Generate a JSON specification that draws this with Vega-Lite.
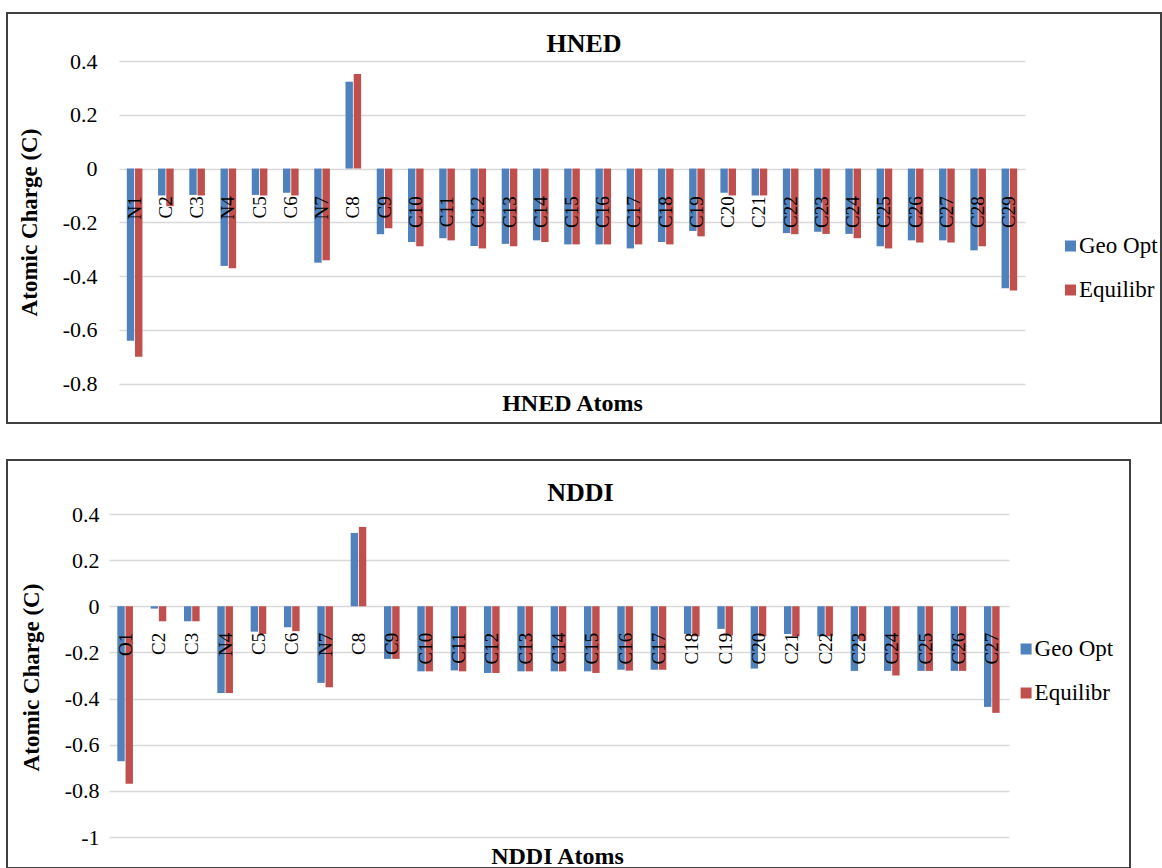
{
  "$schema": "https://vega.github.io/schema/vega-lite/v6.json",
  "padding": {"left": 6, "top": 12, "right": 0, "bottom": 0},
  "background": "white",
  "spacing": 35,
  "datasets": {
    "hned": [
      {"atom": "N1", "series": "Geo Opt", "charge": -0.640}, {"atom": "N1", "series": "Equilibr", "charge": -0.700},
      {"atom": "C2", "series": "Geo Opt", "charge": -0.100}, {"atom": "C2", "series": "Equilibr", "charge": -0.140},
      {"atom": "C3", "series": "Geo Opt", "charge": -0.098}, {"atom": "C3", "series": "Equilibr", "charge": -0.100},
      {"atom": "N4", "series": "Geo Opt", "charge": -0.362}, {"atom": "N4", "series": "Equilibr", "charge": -0.371},
      {"atom": "C5", "series": "Geo Opt", "charge": -0.098}, {"atom": "C5", "series": "Equilibr", "charge": -0.100},
      {"atom": "C6", "series": "Geo Opt", "charge": -0.090}, {"atom": "C6", "series": "Equilibr", "charge": -0.100},
      {"atom": "N7", "series": "Geo Opt", "charge": -0.350}, {"atom": "N7", "series": "Equilibr", "charge": -0.341},
      {"atom": "C8", "series": "Geo Opt", "charge": 0.323}, {"atom": "C8", "series": "Equilibr", "charge": 0.352},
      {"atom": "C9", "series": "Geo Opt", "charge": -0.244}, {"atom": "C9", "series": "Equilibr", "charge": -0.222},
      {"atom": "C10", "series": "Geo Opt", "charge": -0.273}, {"atom": "C10", "series": "Equilibr", "charge": -0.289},
      {"atom": "C11", "series": "Geo Opt", "charge": -0.259}, {"atom": "C11", "series": "Equilibr", "charge": -0.267},
      {"atom": "C12", "series": "Geo Opt", "charge": -0.288}, {"atom": "C12", "series": "Equilibr", "charge": -0.297},
      {"atom": "C13", "series": "Geo Opt", "charge": -0.280}, {"atom": "C13", "series": "Equilibr", "charge": -0.289},
      {"atom": "C14", "series": "Geo Opt", "charge": -0.267}, {"atom": "C14", "series": "Equilibr", "charge": -0.273},
      {"atom": "C15", "series": "Geo Opt", "charge": -0.282}, {"atom": "C15", "series": "Equilibr", "charge": -0.282},
      {"atom": "C16", "series": "Geo Opt", "charge": -0.282}, {"atom": "C16", "series": "Equilibr", "charge": -0.282},
      {"atom": "C17", "series": "Geo Opt", "charge": -0.297}, {"atom": "C17", "series": "Equilibr", "charge": -0.282},
      {"atom": "C18", "series": "Geo Opt", "charge": -0.273}, {"atom": "C18", "series": "Equilibr", "charge": -0.282},
      {"atom": "C19", "series": "Geo Opt", "charge": -0.232}, {"atom": "C19", "series": "Equilibr", "charge": -0.252},
      {"atom": "C20", "series": "Geo Opt", "charge": -0.090}, {"atom": "C20", "series": "Equilibr", "charge": -0.100},
      {"atom": "C21", "series": "Geo Opt", "charge": -0.100}, {"atom": "C21", "series": "Equilibr", "charge": -0.100},
      {"atom": "C22", "series": "Geo Opt", "charge": -0.240}, {"atom": "C22", "series": "Equilibr", "charge": -0.244},
      {"atom": "C23", "series": "Geo Opt", "charge": -0.235}, {"atom": "C23", "series": "Equilibr", "charge": -0.243},
      {"atom": "C24", "series": "Geo Opt", "charge": -0.243}, {"atom": "C24", "series": "Equilibr", "charge": -0.259},
      {"atom": "C25", "series": "Geo Opt", "charge": -0.289}, {"atom": "C25", "series": "Equilibr", "charge": -0.297},
      {"atom": "C26", "series": "Geo Opt", "charge": -0.267}, {"atom": "C26", "series": "Equilibr", "charge": -0.275},
      {"atom": "C27", "series": "Geo Opt", "charge": -0.267}, {"atom": "C27", "series": "Equilibr", "charge": -0.275},
      {"atom": "C28", "series": "Geo Opt", "charge": -0.304}, {"atom": "C28", "series": "Equilibr", "charge": -0.289},
      {"atom": "C29", "series": "Geo Opt", "charge": -0.445}, {"atom": "C29", "series": "Equilibr", "charge": -0.453}
    ],
    "nddi": [
      {"atom": "O1", "series": "Geo Opt", "charge": -0.672}, {"atom": "O1", "series": "Equilibr", "charge": -0.769},
      {"atom": "C2", "series": "Geo Opt", "charge": -0.010}, {"atom": "C2", "series": "Equilibr", "charge": -0.065},
      {"atom": "C3", "series": "Geo Opt", "charge": -0.065}, {"atom": "C3", "series": "Equilibr", "charge": -0.065},
      {"atom": "N4", "series": "Geo Opt", "charge": -0.376}, {"atom": "N4", "series": "Equilibr", "charge": -0.376},
      {"atom": "C5", "series": "Geo Opt", "charge": -0.110}, {"atom": "C5", "series": "Equilibr", "charge": -0.120},
      {"atom": "C6", "series": "Geo Opt", "charge": -0.091}, {"atom": "C6", "series": "Equilibr", "charge": -0.108},
      {"atom": "N7", "series": "Geo Opt", "charge": -0.332}, {"atom": "N7", "series": "Equilibr", "charge": -0.351},
      {"atom": "C8", "series": "Geo Opt", "charge": 0.318}, {"atom": "C8", "series": "Equilibr", "charge": 0.344},
      {"atom": "C9", "series": "Geo Opt", "charge": -0.228}, {"atom": "C9", "series": "Equilibr", "charge": -0.228},
      {"atom": "C10", "series": "Geo Opt", "charge": -0.282}, {"atom": "C10", "series": "Equilibr", "charge": -0.282},
      {"atom": "C11", "series": "Geo Opt", "charge": -0.278}, {"atom": "C11", "series": "Equilibr", "charge": -0.282},
      {"atom": "C12", "series": "Geo Opt", "charge": -0.289}, {"atom": "C12", "series": "Equilibr", "charge": -0.289},
      {"atom": "C13", "series": "Geo Opt", "charge": -0.282}, {"atom": "C13", "series": "Equilibr", "charge": -0.282},
      {"atom": "C14", "series": "Geo Opt", "charge": -0.282}, {"atom": "C14", "series": "Equilibr", "charge": -0.282},
      {"atom": "C15", "series": "Geo Opt", "charge": -0.282}, {"atom": "C15", "series": "Equilibr", "charge": -0.289},
      {"atom": "C16", "series": "Geo Opt", "charge": -0.275}, {"atom": "C16", "series": "Equilibr", "charge": -0.279},
      {"atom": "C17", "series": "Geo Opt", "charge": -0.275}, {"atom": "C17", "series": "Equilibr", "charge": -0.275},
      {"atom": "C18", "series": "Geo Opt", "charge": -0.120}, {"atom": "C18", "series": "Equilibr", "charge": -0.130},
      {"atom": "C19", "series": "Geo Opt", "charge": -0.098}, {"atom": "C19", "series": "Equilibr", "charge": -0.127},
      {"atom": "C20", "series": "Geo Opt", "charge": -0.270}, {"atom": "C20", "series": "Equilibr", "charge": -0.130},
      {"atom": "C21", "series": "Geo Opt", "charge": -0.120}, {"atom": "C21", "series": "Equilibr", "charge": -0.130},
      {"atom": "C22", "series": "Geo Opt", "charge": -0.130}, {"atom": "C22", "series": "Equilibr", "charge": -0.130},
      {"atom": "C23", "series": "Geo Opt", "charge": -0.280}, {"atom": "C23", "series": "Equilibr", "charge": -0.150},
      {"atom": "C24", "series": "Geo Opt", "charge": -0.280}, {"atom": "C24", "series": "Equilibr", "charge": -0.300},
      {"atom": "C25", "series": "Geo Opt", "charge": -0.280}, {"atom": "C25", "series": "Equilibr", "charge": -0.280},
      {"atom": "C26", "series": "Geo Opt", "charge": -0.280}, {"atom": "C26", "series": "Equilibr", "charge": -0.280},
      {"atom": "C27", "series": "Geo Opt", "charge": -0.436}, {"atom": "C27", "series": "Equilibr", "charge": -0.462}
    ]
  },
  "config": {
    "font": "Liberation Serif",
    "view": {"stroke": "#404040", "strokeWidth": 2},
    "axis": {
      "domain": false, "ticks": false, "tickSize": 0,
      "labelFont": "Liberation Serif", "titleFont": "Liberation Serif",
      "labelColor": "#000000", "titleColor": "#000000"
    },
    "legend": {
      "labelFont": "Liberation Serif", "labelColor": "#000000", "labelFontSize": 23,
      "symbolType": "square", "symbolSize": 121, "symbolStrokeWidth": 0,
      "rowPadding": 20, "labelOffset": -3, "padding": 0
    },
    "title": {"font": "Liberation Serif", "color": "#000000"}
  },
  "resolve": {"scale": {"color": "independent"}, "legend": {"color": "independent"}},
  "vconcat": [
    {
      "width": 1154,
      "height": 410,
      "data": {"name": "hned"},
      "title": {"text": "HNED", "fontSize": 26, "fontWeight": "bold", "anchor": "middle", "frame": "group", "offset": -65, "baseline": "alphabetic"},
      "mark": {"type": "bar"},
      "encoding": {
        "x": {
          "field": "atom", "type": "nominal", "sort": null,
          "scale": {"range": [112, 1018], "paddingInner": 0.5, "paddingOuter": 0.25},
          "axis": {
            "orient": "bottom", "offset": -254.3, "labelAngle": -90, "labelPadding": 27,
            "labelFontSize": 19, "zindex": 1, "grid": false,
            "title": "HNED Atoms", "titleFontSize": 24, "titleFontWeight": "bold",
            "titleX": 565, "titleY": 234.3, "titleBaseline": "middle", "titleAlign": "center", "titleAngle": 0
          }
        },
        "xOffset": {"field": "series", "type": "nominal", "sort": ["Geo Opt", "Equilibr"], "scale": {"paddingInner": 0.1}},
        "y": {
          "field": "charge", "type": "quantitative", "stack": null,
          "scale": {"domain": [-0.8, 0.4], "range": [370.7, 48], "nice": false, "zero": false},
          "axis": {
            "orient": "left", "offset": -112, "values": [-0.8, -0.6, -0.4, -0.2, 0, 0.2, 0.4],
            "labelExpr": "toString(datum.value)", "labelFontSize": 22, "labelPadding": 22,
            "grid": true, "gridColor": "#d9d9d9", "gridWidth": 1.5, "zindex": 0,
            "title": "Atomic Charge (C)", "titleFontSize": 23, "titleFontWeight": "bold",
            "titleX": -89.5, "titleY": 209, "titleAngle": -90, "titleBaseline": "middle", "titleAlign": "center"
          }
        },
        "color": {
          "field": "series", "type": "nominal",
          "scale": {"domain": ["Geo Opt", "Equilibr"], "range": ["#4F81BD", "#C0504D"]},
          "legend": {"orient": "none", "legendX": 1052, "legendY": 221.5, "title": null}
        }
      }
    },
    {
      "width": 1123,
      "height": 408,
      "data": {"name": "nddi"},
      "title": {"text": "NDDI", "fontSize": 26, "fontWeight": "bold", "anchor": "middle", "frame": "group", "offset": -67, "dx": 12, "baseline": "alphabetic"},
      "mark": {"type": "bar"},
      "encoding": {
        "x": {
          "field": "atom", "type": "nominal", "sort": null,
          "scale": {"range": [102, 1002], "paddingInner": 0.5, "paddingOuter": 0.25},
          "axis": {
            "orient": "bottom", "offset": -261.7, "labelAngle": -90, "labelPadding": 26,
            "labelFontSize": 19, "zindex": 1, "grid": false,
            "title": "NDDI Atoms", "titleFontSize": 24, "titleFontWeight": "bold",
            "titleX": 550, "titleY": 249.7, "titleBaseline": "middle", "titleAlign": "center", "titleAngle": 0
          }
        },
        "xOffset": {"field": "series", "type": "nominal", "sort": ["Geo Opt", "Equilibr"], "scale": {"paddingInner": 0.1}},
        "y": {
          "field": "charge", "type": "quantitative", "stack": null,
          "scale": {"domain": [-1, 0.4], "range": [377, 54], "nice": false, "zero": false},
          "axis": {
            "orient": "left", "offset": -102, "values": [-1, -0.8, -0.6, -0.4, -0.2, 0, 0.2, 0.4],
            "labelExpr": "toString(datum.value)", "labelFontSize": 22, "labelPadding": 10,
            "grid": true, "gridColor": "#d9d9d9", "gridWidth": 1.5, "zindex": 0,
            "title": "Atomic Charge (C)", "titleFontSize": 23, "titleFontWeight": "bold",
            "titleX": -78, "titleY": 217, "titleAngle": -90, "titleBaseline": "middle", "titleAlign": "center"
          }
        },
        "color": {
          "field": "series", "type": "nominal",
          "scale": {"domain": ["Geo Opt", "Equilibr"], "range": ["#4F81BD", "#C0504D"]},
          "legend": {"orient": "none", "legendX": 1007.6, "legendY": 177.5, "title": null}
        }
      }
    }
  ]
}
